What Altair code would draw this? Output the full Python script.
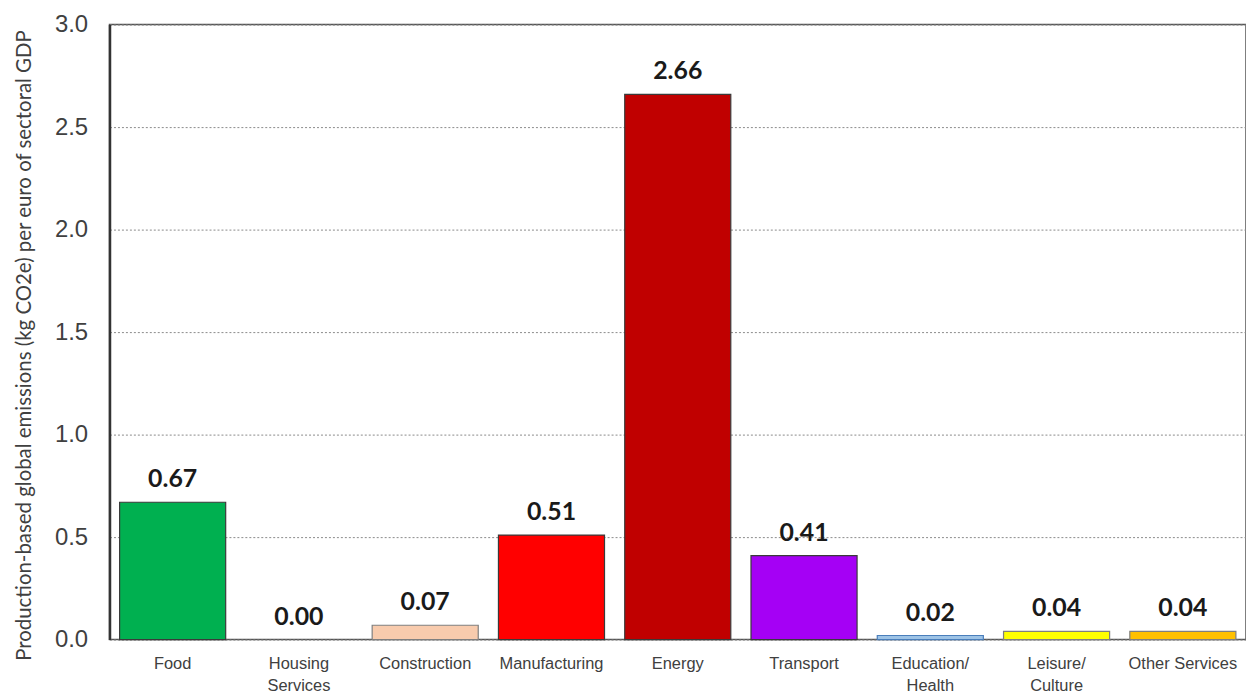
import altair as alt
import pandas as pd

categories = ["Food", "Housing|Services", "Construction", "Manufacturing", "Energy",
              "Transport", "Education/|Health", "Leisure/|Culture", "Other Services"]
values = [0.67, 0.00, 0.07, 0.51, 2.66, 0.41, 0.02, 0.04, 0.04]
fill_colors = ["#00b050", "transparent", "#f8cbad", "#ff0000", "#c00000",
               "#a500f5", "#9dc3e6", "#ffff00", "#ffc000"]
stroke_colors = ["#3a3a3a", "transparent", "#7f7f7f", "#3a3a3a", "#3a3a3a",
                 "#3a3a3a", "#4a7ebb", "#7f7f7f", "#7f7f7f"]
y_ticks = [0.0, 0.5, 1.0, 1.5, 2.0, 2.5, 3.0]

df = pd.DataFrame({"sector": categories, "value": values})

x_enc = alt.X("sector:N", sort=categories,
              scale=alt.Scale(paddingInner=0.16, paddingOuter=0.08),
              axis=alt.Axis(title=None, labelAngle=0, labelExpr="split(datum.value, '|')",
                            labelFont="Liberation Sans", labelFontSize=16.5, labelColor="#404040",
                            labelPadding=16, labelLineHeight=22, ticks=False, domain=False,
                            labelBaseline="top"))
y_enc = alt.Y("value:Q", scale=alt.Scale(domain=[0, 3.0], nice=False, zero=True),
              axis=alt.Axis(values=y_ticks, format=".1f",
                            title="Production-based global emissions (kg CO2e) per euro of sectoral GDP",
                            titleFont="Lato", titleFontSize=20.5, titleFontWeight="normal",
                            titleColor="#404040", titlePadding=20, titleY=322,
                            labelFont="Liberation Sans", labelFontSize=24, labelColor="#404040",
                            labelPadding=22, ticks=False, domainColor="#333333", domainWidth=2.5,
                            grid=True, gridDash=[2, 2], gridColor="#8a8a8a", gridWidth=1))

bars = alt.Chart(df).mark_bar(strokeWidth=1.2).encode(
    x=x_enc,
    y=y_enc,
    color=alt.Color("sector:N", scale=alt.Scale(domain=categories, range=fill_colors), legend=None),
    stroke=alt.Stroke("sector:N", scale=alt.Scale(domain=categories, range=stroke_colors), legend=None),
)

labels = alt.Chart(df).mark_text(font="Lato", fontSize=25, fontWeight="bold", color="#1a1a1a",
                                 baseline="bottom", dy=-10).encode(
    x=alt.X("sector:N", sort=categories),
    y=alt.Y("value:Q"),
    text=alt.Text("value:Q", format=".2f"),
)

chart = (bars + labels).properties(
    width=1142, height=618,
    background="white",
    autosize=alt.AutoSizeParams(type="none"),
    padding={"left": 102, "top": 15, "right": 0, "bottom": 60},
).configure_view(stroke="#555555", strokeWidth=1.5)

chart.save("out.html", embed_options={"renderer": "svg", "actions": False})
